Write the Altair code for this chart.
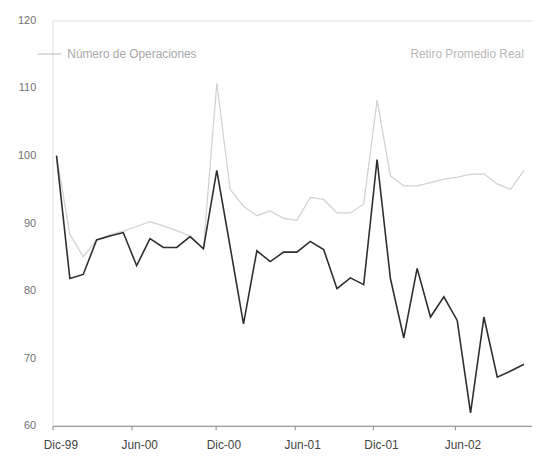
import altair as alt
import pandas as pd

meses = ["Dic-99", "Ene-00", "Feb-00", "Mar-00", "Abr-00", "May-00", "Jun-00",
         "Jul-00", "Ago-00", "Sep-00", "Oct-00", "Nov-00", "Dic-00", "Ene-01",
         "Feb-01", "Mar-01", "Abr-01", "May-01", "Jun-01", "Jul-01", "Ago-01",
         "Sep-01", "Oct-01", "Nov-01", "Dic-01", "Ene-02", "Feb-02", "Mar-02",
         "Abr-02", "May-02", "Jun-02", "Jul-02", "Ago-02", "Sep-02", "Oct-02",
         "Nov-02"]

operaciones = [100, 88.4, 85.0, 87.5, 88.3, 88.8, 89.5, 90.2, 89.6, 88.9, 88.1,
               86.2, 110.7, 95.0, 92.5, 91.1, 91.8, 90.7, 90.4, 93.8, 93.5,
               91.5, 91.5, 92.8, 108.2, 97.0, 95.5, 95.5, 96.0, 96.5, 96.8,
               97.2, 97.3, 95.8, 95.0, 97.8]

retiro = [100, 81.8, 82.4, 87.5, 88.1, 88.6, 83.7, 87.7, 86.4, 86.4, 88.0,
          86.2, 97.8, 86.5, 75.1, 85.9, 84.3, 85.7, 85.7, 87.3, 86.1, 80.3,
          81.9, 80.9, 99.4, 81.8, 73.0, 83.3, 76.1, 79.1, 75.6, 61.9, 76.1,
          67.2, 68.1, 69.1]

series = ["Número de Operaciones", "Retiro Promedio Real"]
tick_labels = ["Dic-99", "Jun-00", "Dic-00", "Jun-01", "Dic-01", "Jun-02"]
tick_pos = [-0.3, 5.6, 11.9, 17.8, 23.7, 29.8]
y_ticks = [60, 70, 80, 90, 100, 110, 120]

df = pd.DataFrame({"i": list(range(len(meses))), "mes": meses,
                   series[0]: operaciones, series[1]: retiro})
long = df.melt(id_vars=["i", "mes"], var_name="serie", value_name="valor")

label_expr = "[" + ",".join("'%s'" % t for t in tick_labels) + "][round(datum.value/6)]"

x = alt.X("i:Q",
          scale=alt.Scale(domain=[-0.3, 35.6], nice=False, zero=False),
          axis=alt.Axis(values=tick_pos, labelExpr=label_expr, title=None,
                        grid=False, domainColor="#8a8a8a", tickColor="#8a8a8a",
                        tickSize=4, labelOffset=8, labelFlush=False,
                        labelFont="Liberation Sans", labelFontSize=12,
                        labelColor="#444444", labelPadding=10))
y = alt.Y("valor:Q",
          scale=alt.Scale(domain=[60, 120], nice=False, zero=False),
          axis=alt.Axis(values=y_ticks, domain=False, ticks=False, grid=False,
                        labelPadding=17, labelColor="#707070",
                        labelFont="Liberation Sans", labelFontSize=11,
                        title=None))

base = alt.Chart(long)
gray = base.transform_filter(alt.datum.serie == series[0]).mark_line(
    color="#d2d2d2", strokeWidth=1.3).encode(x=x, y=y)
dark = base.transform_filter(alt.datum.serie == series[1]).mark_line(
    color="#2e2e2e", strokeWidth=1.6).encode(x=x, y=y)

leg_df = pd.DataFrame({"serie": series})
leg_rule = alt.Chart(leg_df).transform_filter(
    alt.datum.serie == series[0]).mark_rule(
    color="#c8c8c8", strokeWidth=1.3).encode(
    x=alt.value(-15), x2=alt.value(9), y=alt.value(34))
leg_t1 = alt.Chart(leg_df).transform_filter(
    alt.datum.serie == series[0]).mark_text(
    align="left", baseline="middle", font="Liberation Sans", fontSize=12,
    color="#a8a8a8").encode(text="serie:N", x=alt.value(15), y=alt.value(34))
leg_t2 = alt.Chart(leg_df).transform_filter(
    alt.datum.serie == series[1]).mark_text(
    align="left", baseline="middle", font="Liberation Sans", fontSize=12,
    color="#b8b8b8").encode(text="serie:N", x=alt.value(362), y=alt.value(34))

chart = alt.layer(gray, dark, leg_rule, leg_t1, leg_t2).properties(
    width=485, height=410,
    autosize=alt.AutoSizeParams(type="none"),
    padding={"left": 45, "top": 10, "right": 0, "bottom": 30},
).configure_view(stroke=None).configure(background="white")

chart.save("out.html", embed_options={"renderer": "svg", "actions": False})
